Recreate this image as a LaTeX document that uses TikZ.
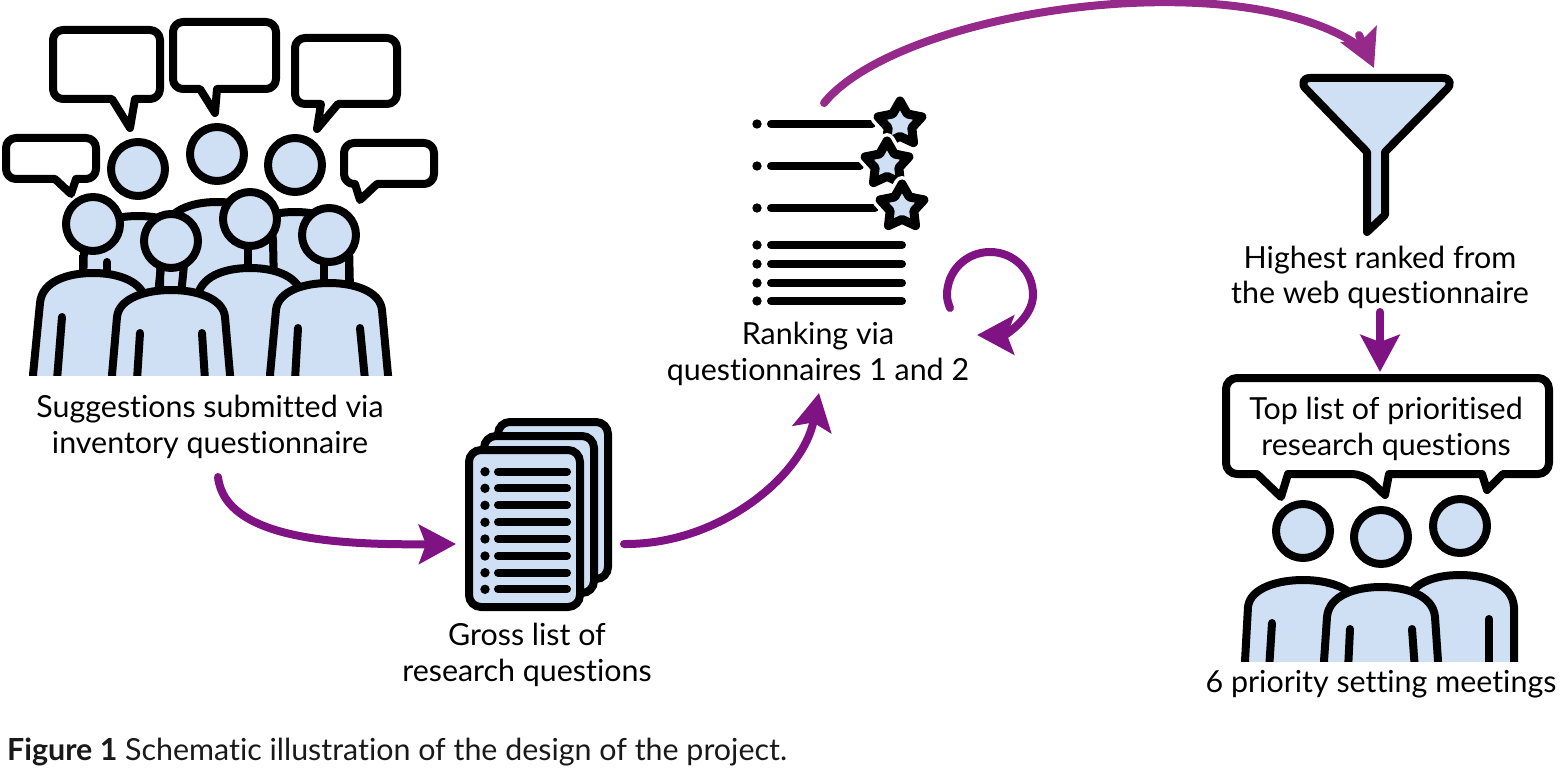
\documentclass[tikz,border=0pt]{standalone}
\usepackage{fontspec}
\setmainfont{Lato}[Ligatures=NoCommon]
\usetikzlibrary{shapes.geometric,arrows.meta}
\definecolor{pblue}{HTML}{CFE0F4}
\definecolor{pur}{HTML}{7F1383}
\definecolor{purl}{HTML}{962A8A}
\tikzset{
 ink/.style={draw=black,line width=8pt,line join=round,line cap=round},
 headc/.style={circle,draw=black,line width=8pt,fill=pblue,minimum size=54pt,inner sep=0pt,outer sep=0pt},
 bub/.style={draw=black,fill=white,line width=8pt,line join=round},
 bodyc/.style={draw=black,fill=pblue,line width=8pt,line join=round},
 pagec/.style={draw=black,fill=pblue,line width=8pt,rounded corners=12pt},
 starc/.style={star,star points=5,star point ratio=1.85,minimum size=46pt,inner sep=0pt,outer sep=0pt,draw=black,fill=pblue,line width=9pt,line join=round,preaction={draw=white,line width=16pt}},
 lbl/.style={align=center,font=\fontsize{30.4}{35.5}\selectfont,inner sep=0pt},
 arr/.style={draw=pur,line width=8pt,line cap=round,-{Stealth[length=37pt,width=39pt,inset=7pt]}},
 arrl/.style={draw=purl,line width=8pt,line cap=round,-{Stealth[length=37pt,width=39pt,inset=7pt]}},
}
% body: cx, top y, half width at side, side y, half width at bottom, bottom y
\newcommand{\pbody}[6]{\draw[bodyc] (#1-#5,#6+20) -- (#1-#5,#6) -- (#1-#3,#4) .. controls (#1-#3+2,#2+8) and (#1-25,#2) .. (#1,#2) .. controls (#1+25,#2) and (#1+#3-2,#2+8) .. (#1+#3,#4) -- (#1+#5,#6) -- (#1+#5,#6+20) -- cycle;}
% bubble: left top right bottom tail1x tipx tipy tail2x
\newcommand{\pbubble}[8]{\draw[bub] (#8,#4) [rounded corners=10pt] -- (#3,#4) -- (#3,#2) -- (#1,#2) -- (#1,#4) [sharp corners] -- (#5,#4) -- (#6,#7) -- cycle;}
\begin{document}
\begin{tikzpicture}[x=1pt,y=-1pt]
\useasboundingbox (0,0) rectangle (1561,778);
% left crowd
\pbubble{53}{30}{160}{99}{112}{130}{128}{135}
\pbubble{173}{22}{276}{89}{200}{215}{113}{217}
\pbubble{295}{38}{397}{104}{321}{317}{129}{338}
\pbubble{6}{138}{96}{179}{55}{71}{194}{76}
\pbubble{344}{143}{434}{184}{355}{360}{200}{377}
\begin{scope}
\clip (0,0) rectangle (1561,375);
\pbody{138}{216}{54}{245}{57}{380}
\pbody{295}{212}{54}{245}{57}{380}
\pbody{217}{202}{56}{240}{59}{380}
\draw[ink] (107,262) -- (107,280);
\draw[ink,line cap=butt] (83,255) -- (83,280);
\pbody{93}{273}{53}{303}{60}{375}
\draw[ink] (62,317) -- (57,380);
\draw[ink,line cap=butt] (248,243) -- (248,275);
\pbody{250}{268}{53}{300}{60}{375}
\draw[ink,line cap=butt] (161,265) -- (158,295);
\draw[ink,line cap=butt] (184,265) -- (181,295);
\pbody{171}{290}{54}{317}{59}{375}
\draw[ink] (140,333) -- (137,380);
\draw[ink] (202,333) -- (205,380);
\draw[ink,line cap=butt] (324,262) -- (324,290);
\draw[ink,line cap=butt] (349,257) -- (349,290);
\pbody{329}{283}{53}{310}{59}{375}
\draw[ink] (298,328) -- (295,380);
\draw[ink] (360,328) -- (365,380);
\end{scope}
\node[headc] (h1) at (138,169) {};
\node[headc] (h2) at (217,154) {};
\node[headc] (h3) at (295,165) {};
\node[headc] (h4) at (93,224) {};
\node[headc] (h5) at (171,241) {};
\node[headc] (h6) at (250,219) {};
\node[headc] (h7) at (329,235) {};
\node[lbl] (t1) at (210,427) {Suggestions submitted via\\inventory questionnaire};
% pages
\draw[pagec] (498,422) rectangle (608,579);
\draw[pagec] (484,436) rectangle (594,593);
\draw[pagec] (469,450) rectangle (580,607);
\foreach \yy in {471.7,488.3,505.3,522.3,539,556,572.7,589.3}{
  \fill[black] (485,\yy) circle[radius=4.7pt];
  \draw[ink] (498,\yy) -- (567,\yy);
}
\node[lbl] (t2) at (527,655) {Gross list of\\research questions};
% ranked list
\foreach \yy/\xx in {124/872,166/860,208/875,245/902,264/902,283/902,301/902}{
  \fill[black] (757,\yy) circle[radius=4.7pt];
  \draw[ink] (771,\yy) -- (\xx,\yy);
}
\node[starc] (s1) at (900,124) {};
\node[starc] (s2) at (887,164) {};
\node[starc] (s3) at (902,207) {};
\node[lbl] (t3) at (818,354) {Ranking via\\questionnaires 1 and 2};
% funnel
\draw[draw=black,fill=pblue,line width=8pt,line join=round] (1310,78) -- (1443,78) .. controls (1450,78) and (1452,84) .. (1447,89) -- (1385,152) -- (1385,215) -- (1367,232) -- (1367,152) -- (1306,89) .. controls (1301,84) and (1303,78) .. (1310,78) -- cycle;
\node[lbl] (t4) at (1380,277.5) {Highest ranked from\\the web questionnaire};
% top bubble
\draw[bub] (1288,474) [rounded corners=11pt] -- (1363,474) [sharp corners] -- (1385,495) -- (1389,474) -- (1482,474) -- (1487,490) -- (1503,474) [rounded corners=11pt] -- (1549,474) -- (1549,378) -- (1226,378) -- (1226,474) [sharp corners] -- (1257,474) -- (1281,497) -- cycle;
\node[lbl] (t5) at (1386,429) {Top list of prioritised\\research questions};
% right people
\begin{scope}
\clip (0,0) rectangle (1561,661);
\pbody{1460}{575}{54}{607}{54}{661}
\draw[ink] (1489,619) -- (1489,670);
\pbody{1303}{580}{55}{607}{58}{661}
\draw[ink] (1272,623) -- (1269,670);
\pbody{1381}{587}{54}{617}{57}{661}
\draw[ink] (1350,629) -- (1348,670);
\draw[ink] (1412,629) -- (1415,670);
\end{scope}
\node[headc] (h8) at (1303,531) {};
\node[headc] (h9) at (1381,537) {};
\node[headc] (h10) at (1460,526) {};
\node[lbl] (t6) at (1381,684) {6 priority setting meetings};
% caption
\node[anchor=base west,inner sep=0pt,font=\fontsize{30.4}{36}\selectfont,text=black!90] (cap) at (7,760) {\textbf{Figure 1} Schematic illustration of the design of the project.};
% connectors
\coordinate (a1s) at (218,477); \coordinate (a1e) at (456,544);
\coordinate (a2s) at (624,544); \coordinate (a2e) at (819,393);
\coordinate (a3s) at (824,103); \coordinate (a3m) at (1362,48); \coordinate (a3b) at (1359,35); \coordinate (a3e) at (1374,68);
\coordinate (a4s) at (1380,312); \coordinate (a4e) at (1380,372);
\coordinate (a5s) at (950,308); \coordinate (a5e) at (977,335);
\draw[arr] (a1s) .. controls (225,540) and (340,545) .. (a1e);
\draw[arr] (a2s) .. controls (720,545) and (803,475) .. (a2e);
\draw[draw=purl,line width=8pt,line cap=round] (a3s) .. controls (900,10) and (1240,-40) .. (a3m);
\draw[arrl] (a3b) -- (a3e);
\draw[arr] (a4s) -- (a4e);
\draw[arr] (a5s) .. controls (948,303) and (947,299) .. (947,295) .. controls (947,271) and (966,252) .. (990,252) .. controls (1014,252) and (1033,271) .. (1033,295) .. controls (1033,318) and (1005,335) .. (a5e);
\end{tikzpicture}
\end{document}
